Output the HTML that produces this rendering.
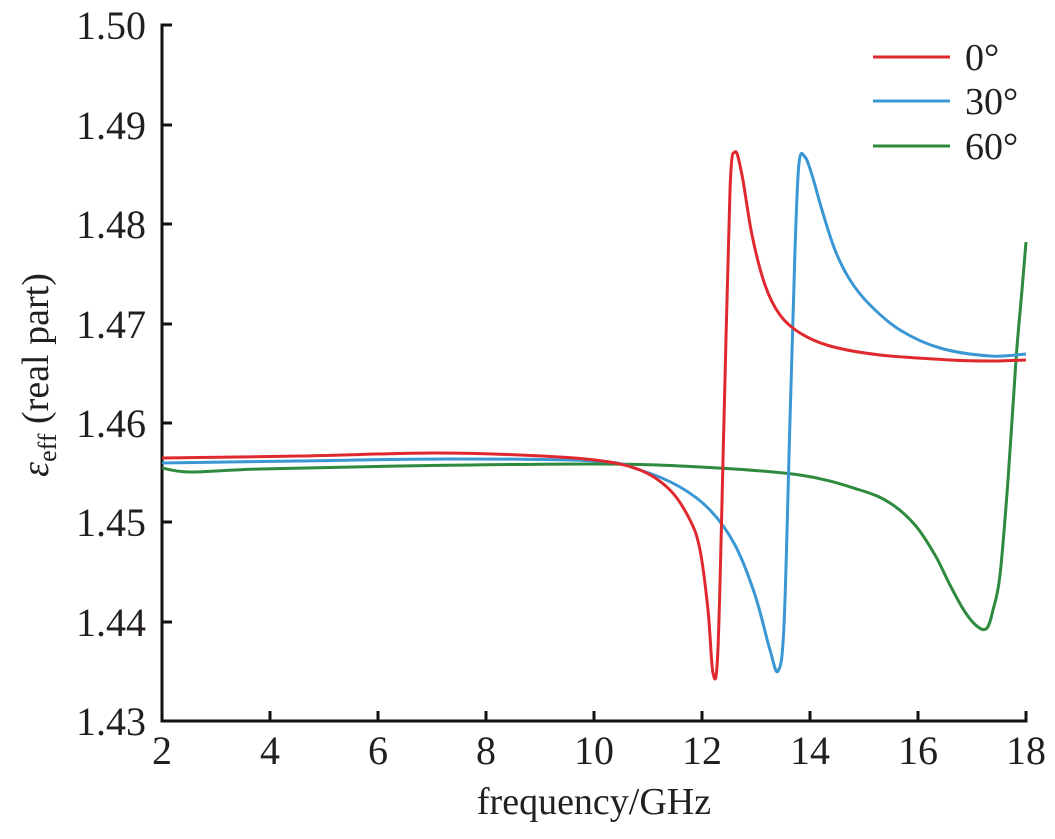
<!DOCTYPE html>
<html><head><style>body{margin:0;background:#fff}</style></head><body>
<svg width="1055" height="834" xmlns="http://www.w3.org/2000/svg" font-family="Liberation Serif, serif" fill="#231f20">
<g stroke="#111" stroke-width="3" fill="none">
<path d="M172,25 H162 V721 H1026 V711"/>
<path d="M162,125 h10 M162,224 h10 M162,324 h10 M162,423 h10 M162,522 h10 M162,622 h10"/>
<path d="M270,721 v-10 M378,721 v-10 M486,721 v-10 M594,721 v-10 M702,721 v-10 M810,721 v-10 M918,721 v-10"/>
</g>
<g font-size="40" text-anchor="end">
<text x="146" y="39">1.50</text><text x="146" y="139">1.49</text><text x="146" y="238">1.48</text><text x="146" y="338">1.47</text><text x="146" y="437">1.46</text><text x="146" y="536">1.45</text><text x="146" y="636">1.44</text><text x="146" y="735">1.43</text>
</g>
<g font-size="40" text-anchor="middle">
<text x="162" y="764">2</text><text x="270" y="764">4</text><text x="378" y="764">6</text><text x="486" y="764">8</text><text x="594" y="764">10</text><text x="702" y="764">12</text><text x="810" y="764">14</text><text x="918" y="764">16</text><text x="1026" y="764">18</text>
<text x="594" y="814" font-size="38">frequency/GHz</text>
</g>
<text transform="translate(48,375) rotate(-90)" font-size="38" text-anchor="middle"><tspan font-style="italic">ε</tspan><tspan font-size="26" dy="8">eff</tspan><tspan dy="-8"> (real part)</tspan></text>
<g fill="none" stroke-width="3" stroke-linejoin="round">
<path id="g" stroke="#2e8b3e"/>
<path id="b" stroke="#3a97d4"/>
<path id="r" stroke="#e0292e"/>
</g>
<g stroke-width="3">
<line x1="873" y1="57" x2="950" y2="57" stroke="#e0292e"/>
<line x1="873" y1="101" x2="950" y2="101" stroke="#3a97d4"/>
<line x1="873" y1="146" x2="950" y2="146" stroke="#2e8b3e"/>
</g>
<g font-size="38">
<text x="965" y="70">0°</text><text x="965" y="114">30°</text><text x="965" y="159">60°</text>
</g>
</svg>
<script>
function cr(p){var d="M"+p[0][0]+","+p[0][1];for(var i=0;i<p.length-1;i++){var a=p[i-1]||p[i],b=p[i],c=p[i+1],e=p[i+2]||c;
d+=" C"+(b[0]+(c[0]-a[0])/6)+","+(b[1]+(c[1]-a[1])/6)+" "+(c[0]-(e[0]-b[0])/6)+","+(c[1]-(e[1]-b[1])/6)+" "+c[0]+","+c[1];}return d;}
var R=[[162,458],[300,456],[432,453],[520,455],[595,460],[640,470],[670,490],[690,520],[700,550],[708,610],[713,673],[718,648],[724,420],[730,190],[735,152],[742,175],[752,235],[765,285],[780,315],[800,333],[830,346],[880,355],[950,360],[990,361],[1026,360]];
var B=[[162,463],[300,461],[450,459],[595,461],[640,470],[680,487],[710,510],[735,545],[755,595],[770,650],[778,671],[784,625],[790,420],[795,250],[799,163],[805,157],[812,175],[822,210],[835,250],[850,280],[870,305],[900,330],[940,348],[990,356],[1026,354]];
var G=[[162,468],[190,472],[260,469],[400,466],[595,464],[700,467],[800,475],[860,490],[890,503],[915,525],[935,555],[950,585],[965,612],[978,627],[987,628],[993,610],[1000,575],[1008,480],[1016,360],[1022,290],[1026,242]];
document.getElementById("r").setAttribute("d",cr(R));
document.getElementById("b").setAttribute("d",cr(B));
document.getElementById("g").setAttribute("d",cr(G));
</script>
</body></html>
